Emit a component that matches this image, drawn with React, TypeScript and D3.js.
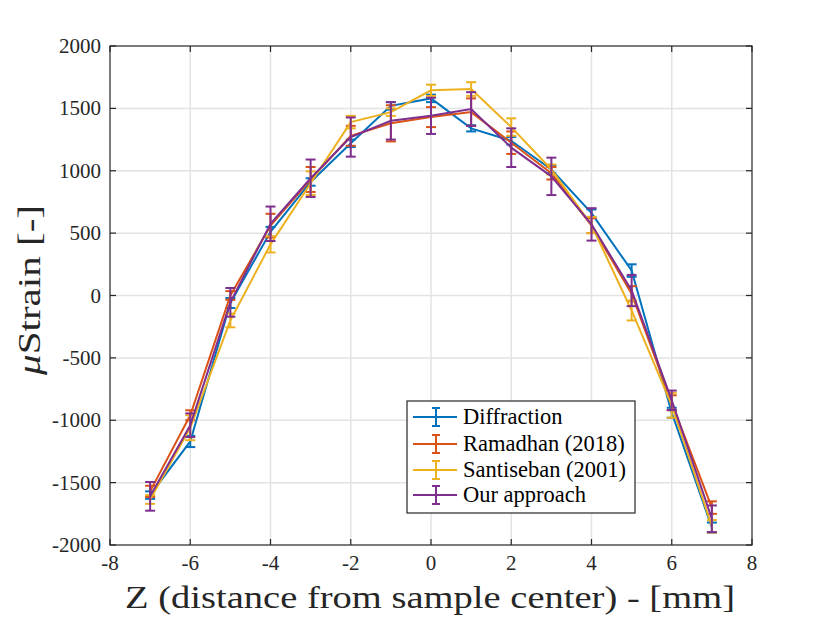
import React, { useEffect, useRef } from 'react';
import * as d3 from 'd3';

const zPos = [-7, -6, -5, -4, -3, -2, -1, 0, 1, 2, 3, 4, 5, 6, 7];

const diffraction = [-1600, -1170, -60, 510, 910, 1220, 1520, 1580, 1340, 1240, 1010, 660, 200, -940, -1860];
const diffractionErr = [30, 45, 40, 40, 30, 30, 30, 30, 25, 30, 30, 30, 50, 40, 40];

const ramadhan = [-1570, -960, 0, 560, 930, 1280, 1380, 1430, 1470, 1225, 980, 560, 15, -860, -1700];
const ramadhanErr = [45, 40, 35, 95, 100, 80, 145, 80, 110, 90, 50, 60, 60, 60, 50];

const santiseban = [-1635, -1060, -200, 410, 900, 1390, 1470, 1645, 1655, 1350, 1010, 565, -120, -880, -1850];
const santisebanErr = [35, 100, 55, 65, 95, 50, 30, 45, 55, 70, 40, 65, 80, 100, 50];

const ours = [-1610, -1040, -55, 575, 940, 1270, 1400, 1440, 1495, 1185, 955, 570, 40, -840, -1790];
const oursErr = [115, 95, 115, 138, 150, 157, 150, 145, 135, 155, 150, 130, 125, 78, 107];

const seriesNames = ['Diffraction', 'Ramadhan (2018)', 'Santiseban (2001)', 'Our approach'];
const seriesColors = ['#0072BD', '#D95319', '#EDB120', '#7E2F8E'];

const xTicks = [-8, -6, -4, -2, 0, 2, 4, 6, 8];
const yTicks = [-2000, -1500, -1000, -500, 0, 500, 1000, 1500, 2000];

const App = () => {
  const ref = useRef(null);

  useEffect(() => {
    if (!ref.current) return;
    const width = 830;
    const height = 623;
    const left = 110, right = 752, top = 46, bottom = 545;
    const font = '"Liberation Serif", serif';

    const svg = d3.select(ref.current);
    svg.selectAll('*').remove();
    svg.attr('width', width).attr('height', height);

    svg.append('rect').attr('width', width).attr('height', height).attr('fill', '#fff');

    const x = d3.scaleLinear().domain([-8, 8]).range([left, right]);
    const y = d3.scaleLinear().domain([-2000, 2000]).range([bottom, top]);

    // grid
    const grid = svg.append('g').attr('stroke', '#e3e3e3').attr('stroke-width', 1.5);
    xTicks.slice(1, -1).forEach(t => {
      grid.append('line').attr('x1', x(t)).attr('x2', x(t)).attr('y1', top).attr('y2', bottom);
    });
    yTicks.slice(1, -1).forEach(t => {
      grid.append('line').attr('x1', left).attr('x2', right).attr('y1', y(t)).attr('y2', y(t));
    });

    // series
    const all = [
      { v: diffraction, e: diffractionErr },
      { v: ramadhan, e: ramadhanErr },
      { v: santiseban, e: santisebanErr },
      { v: ours, e: oursErr },
    ];
    const line = d3.line<number>().x((d, i) => x(zPos[i])).y(d => y(d));
    const cap = 5;

    all.forEach((s, si) => {
      const g = svg.append('g')
        .attr('stroke', seriesColors[si])
        .attr('stroke-width', 2)
        .attr('fill', 'none');
      g.append('path').attr('d', line(s.v));
      s.v.forEach((val, i) => {
        const cx = x(zPos[i]);
        const y1 = y(val + s.e[i]);
        const y2 = y(val - s.e[i]);
        g.append('line').attr('x1', cx).attr('x2', cx).attr('y1', y1).attr('y2', y2);
        g.append('line').attr('x1', cx - cap).attr('x2', cx + cap).attr('y1', y1).attr('y2', y1);
        g.append('line').attr('x1', cx - cap).attr('x2', cx + cap).attr('y1', y2).attr('y2', y2);
      });
    });

    // axes box and ticks
    const axis = svg.append('g').attr('stroke', '#262626').attr('stroke-width', 1.2);
    axis.append('rect')
      .attr('x', left).attr('y', top)
      .attr('width', right - left).attr('height', bottom - top)
      .attr('fill', 'none');
    const tl = 6;
    xTicks.forEach(t => {
      axis.append('line').attr('x1', x(t)).attr('x2', x(t)).attr('y1', bottom).attr('y2', bottom - tl);
      axis.append('line').attr('x1', x(t)).attr('x2', x(t)).attr('y1', top).attr('y2', top + tl);
    });
    yTicks.forEach(t => {
      axis.append('line').attr('x1', left).attr('x2', left + tl).attr('y1', y(t)).attr('y2', y(t));
      axis.append('line').attr('x1', right).attr('x2', right - tl).attr('y1', y(t)).attr('y2', y(t));
    });

    // tick labels
    svg.append('g').selectAll('text').data(xTicks).enter().append('text')
      .attr('x', d => x(d)).attr('y', 570)
      .attr('text-anchor', 'middle')
      .attr('font-family', font).attr('font-size', 21).attr('fill', '#262626')
      .text(d => String(d));
    svg.append('g').selectAll('text').data(yTicks).enter().append('text')
      .attr('x', left - 9).attr('y', d => y(d) + 7)
      .attr('text-anchor', 'end')
      .attr('font-family', font).attr('font-size', 21).attr('fill', '#262626')
      .text(d => String(d));

    // axis labels
    svg.append('text')
      .attr('x', (left + right) / 2 - 1).attr('y', 608)
      .attr('text-anchor', 'middle')
      .attr('font-family', font).attr('font-size', 32).attr('fill', '#262626')
      .attr('textLength', 610).attr('lengthAdjust', 'spacingAndGlyphs')
      .text('Z (distance from sample center) - [mm]');

    const yl = svg.append('text')
      .attr('transform', `translate(40, 290) rotate(-90)`)
      .attr('text-anchor', 'middle')
      .attr('font-family', font).attr('font-size', 32).attr('fill', '#262626')
      .attr('textLength', 170).attr('lengthAdjust', 'spacingAndGlyphs');
    yl.append('tspan').attr('font-style', 'italic').text('μ');
    yl.append('tspan').text('Strain [-]');

    // legend
    const lg = svg.append('g');
    lg.append('rect')
      .attr('x', 407).attr('y', 401).attr('width', 228).attr('height', 112)
      .attr('fill', '#fff').attr('stroke', '#262626').attr('stroke-width', 1.2);
    const rowY = [417, 444, 470, 495];
    seriesNames.forEach((name, i) => {
      const cy = rowY[i];
      const g = lg.append('g').attr('stroke', seriesColors[i]).attr('stroke-width', 2);
      g.append('line').attr('x1', 413).attr('x2', 457).attr('y1', cy).attr('y2', cy);
      g.append('line').attr('x1', 436).attr('x2', 436).attr('y1', cy - 9).attr('y2', cy + 9);
      g.append('line').attr('x1', 432).attr('x2', 440).attr('y1', cy - 9).attr('y2', cy - 9);
      g.append('line').attr('x1', 432).attr('x2', 440).attr('y1', cy + 9).attr('y2', cy + 9);
      lg.append('text')
        .attr('x', 463).attr('y', cy + 7)
        .attr('font-family', font).attr('font-size', 22.5).attr('fill', '#000')
        .text(name);
    });
  }, []);

  return (
    <svg
      ref={ref}
      style={{ position: 'absolute', left: 0, top: 0, display: 'block' }}
    />
  );
};

export default App;
